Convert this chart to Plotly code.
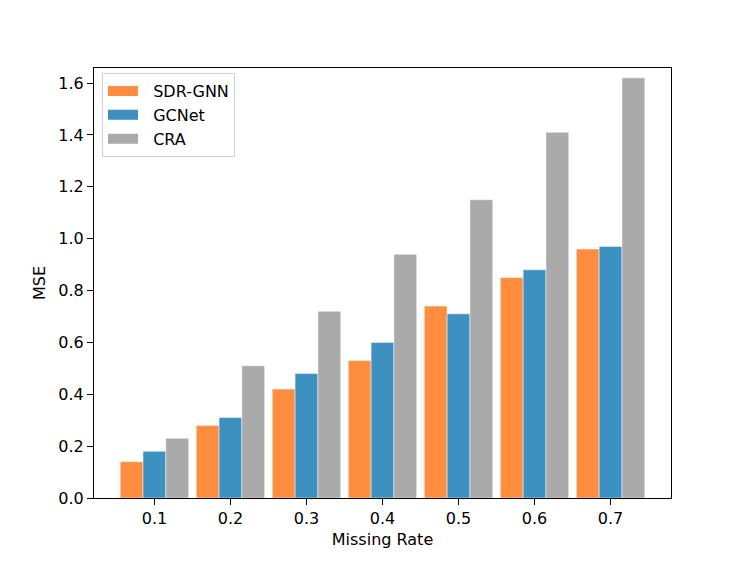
import plotly.graph_objects as go

missing_rate = ["0.1", "0.2", "0.3", "0.4", "0.5", "0.6", "0.7"]
sdr_gnn = [0.14, 0.28, 0.42, 0.53, 0.74, 0.85, 0.96]
gcnet = [0.18, 0.31, 0.48, 0.60, 0.71, 0.88, 0.97]
cra = [0.23, 0.51, 0.72, 0.94, 1.15, 1.41, 1.62]

series = [("SDR-GNN", sdr_gnn, "#FE8D3F"), ("GCNet", gcnet, "#3D91C1"), ("CRA", cra, "#AAAAAA")]

fig = go.Figure()
for name, vals, col in series:
    fig.add_trace(go.Bar(x=missing_rate, y=vals, name=name, showlegend=False,
                         marker=dict(color=col, line=dict(width=0.6, color="rgba(255,255,255,0.8)"))))
# legend-only entries with wide rectangular swatches (like matplotlib patches)
for name, vals, col in series:
    fig.add_trace(go.Scatter(x=[None], y=[None], mode="lines", name="\u00a0\u00a0" + name,
                             line=dict(color=col, width=11)))

font = "DejaVu Sans, sans-serif"
fig.update_layout(
    width=747, height=561,
    margin=dict(l=86, r=84, t=60, b=71),
    plot_bgcolor="white", paper_bgcolor="white",
    barmode="group", bargap=0.1, bargroupgap=0,
    font=dict(family=font, size=16, color="black"),
    legend=dict(x=0.0139, y=0.988, xanchor="left", yanchor="top",
                bgcolor="rgba(255,255,255,0.8)", bordercolor="#d0d0d0", borderwidth=1,
                font=dict(size=16)),
    xaxis=dict(title=dict(text="Missing Rate", standoff=6, font=dict(size=16)), range=[-0.795, 6.795],
               showline=True, linecolor="black", linewidth=1.2, mirror=True,
               ticks="outside", ticklen=6, tickwidth=1.2, tickcolor="black", showgrid=False),
    yaxis=dict(title=dict(text="MSE", standoff=8, font=dict(size=16)), range=[0, 1.658], dtick=0.2,
               tickformat=".1f",
               showline=True, linecolor="black", linewidth=1.2, mirror=True,
               ticks="outside", ticklen=6, tickwidth=1.2, tickcolor="black", showgrid=False,
               zeroline=False),
)
fig.write_html("out.html")
